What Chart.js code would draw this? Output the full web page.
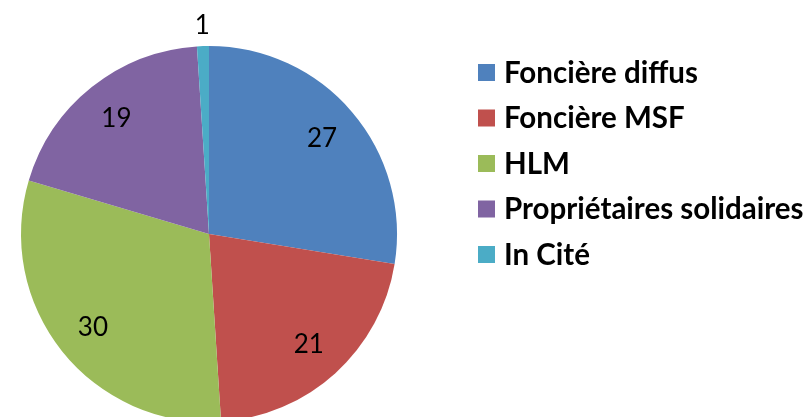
<!DOCTYPE html>
<html>
<head>
<title>Répartition</title>
<style>
  html, body { margin: 0; padding: 0; background: #fff; overflow: hidden; }
  #wrap { width: 809px; height: 417px; overflow: hidden; }
</style>
</head>
<body>
<div id="wrap">
  <canvas id="pieChart" width="809" height="440"></canvas>
</div>
<script src="https://cdn.jsdelivr.net/npm/chart.js"></script>
<script>
const labels = ['Foncière diffus', 'Foncière MSF', 'HLM', 'Propriétaires solidaires', 'In Cité'];
const values = [27, 21, 30, 19, 1];
const colors = ['#4F81BD', '#C0504D', '#9BBB59', '#8064A2', '#4BACC6'];

// labels on the slices (small ones go outside)
const sliceLabels = {
  id: 'sliceLabels',
  afterDatasetsDraw(chart) {
    const ctx = chart.ctx;
    const meta = chart.getDatasetMeta(0);
    ctx.save();
    ctx.font = '26px Lato, "Open Sans", sans-serif';
    ctx.fillStyle = '#000';
    ctx.textAlign = 'center';
    ctx.textBaseline = 'middle';
    meta.data.forEach((arc, i) => {
      const p = arc.getProps(['x', 'y', 'startAngle', 'endAngle', 'outerRadius']);
      const mid = (p.startAngle + p.endAngle) / 2;
      const r = values[i] < 3 ? p.outerRadius + 21 : p.outerRadius * 0.79;
      ctx.fillText(values[i], p.x + Math.cos(mid) * r, p.y + Math.sin(mid) * r + 1);
    });
    ctx.restore();
  }
};

// legend on the right, drawn by hand
const sideLegend = {
  id: 'sideLegend',
  afterDraw(chart) {
    const ctx = chart.ctx;
    ctx.save();
    ctx.font = 'bold 29.5px Lato, "Open Sans", sans-serif';
    ctx.textBaseline = 'middle';
    labels.forEach((lab, i) => {
      const cy = 72 + i * 45.5;
      ctx.fillStyle = colors[i];
      ctx.fillRect(478, cy - 8, 17, 17);
      ctx.fillStyle = '#000';
      ctx.fillText(lab, 504, cy + 1);
    });
    ctx.restore();
  }
};

new Chart(document.getElementById('pieChart'), {
  type: 'pie',
  data: {
    labels: labels,
    datasets: [{
      data: values,
      backgroundColor: colors,
      borderWidth: 0
    }]
  },
  options: {
    responsive: false,
    animation: false,
    layout: { padding: { left: 21, top: 46, right: 412, bottom: 18 } },
    plugins: {
      legend: { display: false },
      tooltip: { enabled: false }
    }
  },
  plugins: [sliceLabels, sideLegend]
});
</script>
</body>
</html>
